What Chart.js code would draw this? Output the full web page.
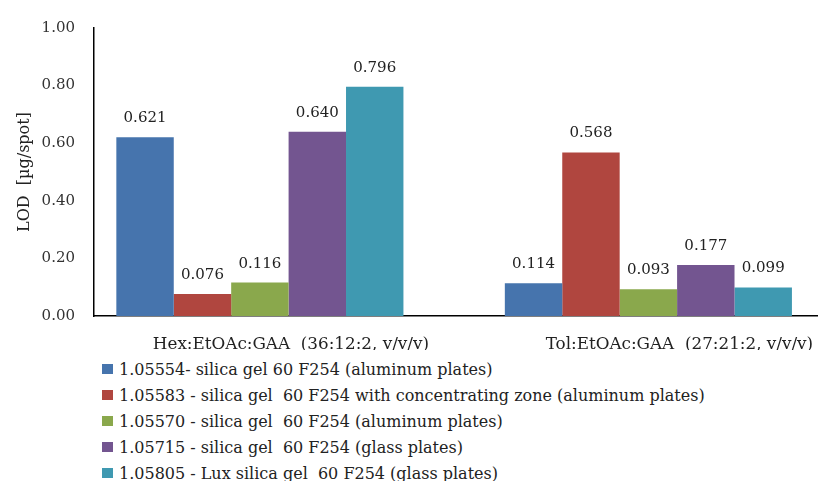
<!DOCTYPE html>
<html lang="en">
<head>
  <meta charset="UTF-8" />
  <title>LOD chart</title>
  <script src="https://cdn.jsdelivr.net/npm/chart.js"></script>
  <style>
    body { margin: 0; background: #fff; width: 818px; height: 481px; overflow: hidden; position: relative; font-family: "DejaVu Serif", serif; }
    #chart { position: absolute; left: 0; top: 0; }
    #legend { position: absolute; left: 102px; top: 356px; color: #222; font-size: 16px; }
    .item { height: 26px; display: flex; align-items: center; white-space: pre; }
    .box { width: 11px; height: 10px; margin-right: 6px; flex: none; }
  </style>
</head>
<body>
  <canvas id="chart" width="818" height="350"></canvas>
  <div id="legend"></div>

  <script>
    const categories = ["Hex:EtOAc:GAA  (36:12:2, v/v/v)", "Tol:EtOAc:GAA  (27:21:2, v/v/v)"];
    const seriesNames = [
      "1.05554- silica gel 60 F254 (aluminum plates)",
      "1.05583 - silica gel  60 F254 with concentrating zone (aluminum plates)",
      "1.05570 - silica gel  60 F254 (aluminum plates)",
      "1.05715 - silica gel  60 F254 (glass plates)",
      "1.05805 - Lux silica gel  60 F254 (glass plates)"
    ];
    const alu05554 = [0.621, 0.114];
    const alu05583 = [0.076, 0.568];
    const alu05570 = [0.116, 0.093];
    const glass05715 = [0.640, 0.177];
    const glass05805 = [0.796, 0.099];
    const colors = ["#4674ad", "#b0463f", "#8aa84c", "#735590", "#3f99b1"];
    const yTicks = [0, 0.2, 0.4, 0.6, 0.8, 1.0];

    const seriesValues = [alu05554, alu05583, alu05570, glass05715, glass05805];

    // value labels above every bar
    const valueLabels = {
      id: "valueLabels",
      afterDatasetsDraw(chart) {
        const ctx = chart.ctx;
        ctx.save();
        ctx.font = "15px 'DejaVu Serif'";
        ctx.fillStyle = "#222";
        ctx.textAlign = "center";
        ctx.textBaseline = "alphabetic";
        chart.data.datasets.forEach((ds, i) => {
          chart.getDatasetMeta(i).data.forEach((bar, j) => {
            ctx.fillText(ds.data[j].y.toFixed(3), bar.x, bar.y - 15);
          });
        });
        ctx.restore();
      }
    };

    const chart = new Chart(document.getElementById("chart"), {
      type: "bar",
      data: {
        datasets: seriesValues.map((vals, i) => ({
          label: seriesNames[i],
          data: vals.map((v, j) => ({ x: j, y: v })),
          backgroundColor: colors[i],
          borderWidth: 0,
          categoryPercentage: 0.739,
          barPercentage: 1
        }))
      },
      options: {
        responsive: false,
        animation: false,
        devicePixelRatio: 1,
        layout: { padding: { top: 22, right: 0, bottom: 0, left: 0 } },
        plugins: {
          legend: { display: false },
          tooltip: { enabled: false }
        },
        scales: {
          x: {
            type: "linear",
            bounds: "data",
            offset: false,
            grace: 0,
            min: -0.427,
            max: 1.4366,
            grid: { display: false, drawTicks: false, offset: false },
            border: { display: true, color: "#000", width: 1.5 },
            afterBuildTicks: (s) => { s.ticks = categories.map((c, i) => ({ value: i })); },
            ticks: {
              autoSkip: false,
              maxRotation: 0,
              padding: 19,
              labelOffset: 31,
              color: "#222",
              font: { family: "DejaVu Serif", size: 16.8 },
              callback: (v) => categories[v] ?? ""
            },
            afterFit: (s) => { s.height = 34; }
          },
          y: {
            min: 0,
            max: 1,
            grid: { display: false, drawTicks: false },
            border: { display: true, color: "#000", width: 1.5 },
            afterBuildTicks: (s) => { s.ticks = yTicks.map(v => ({ value: v })); },
            ticks: {
              padding: 19,
              color: "#333",
              font: { family: "DejaVu Serif", size: 15 },
              callback: (v) => v.toFixed(2)
            },
            title: {
              display: true,
              text: "LOD  [µg/spot]",
              color: "#222",
              font: { family: "DejaVu Serif", size: 16 },
              padding: { top: 15, bottom: 0 }
            },
            afterFit: (s) => { s.width = 94; }
          }
        }
      },
      plugins: [valueLabels]
    });

    // legend listed below the plot, one entry per line
    const legend = document.getElementById("legend");
    seriesNames.forEach((name, i) => {
      const row = document.createElement("div");
      row.className = "item";
      row.innerHTML = `<span class="box" style="background:${colors[i]}"></span><span></span>`;
      row.lastChild.textContent = name;
      legend.appendChild(row);
    });
  </script>
</body>
</html>
